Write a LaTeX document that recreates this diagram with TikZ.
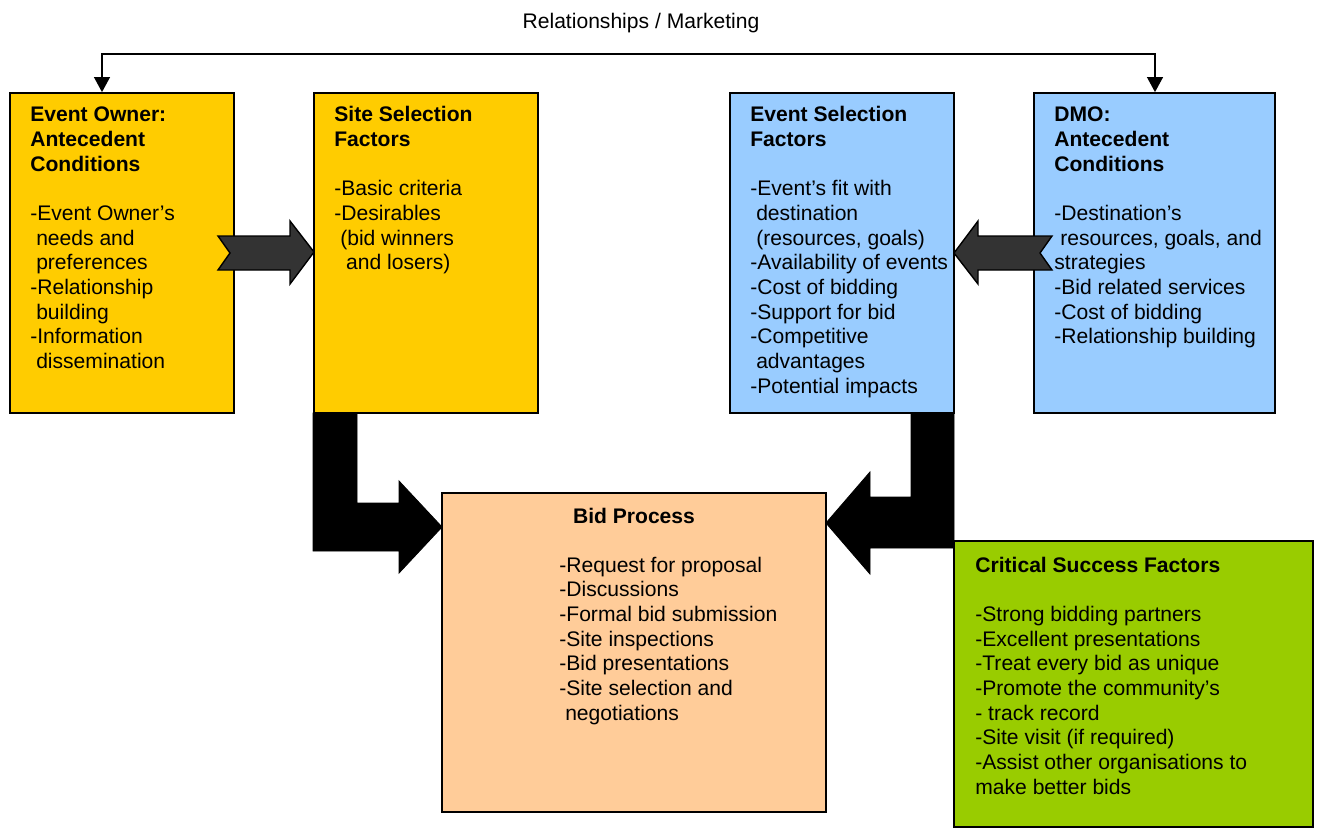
\documentclass[tikz,border=0pt]{standalone}
\usepackage{fontspec}
\setmainfont{Liberation Sans}
\usetikzlibrary{arrows.meta,fit}
\definecolor{ownerfill}{HTML}{FFCC00}
\definecolor{dmofill}{HTML}{99CCFF}
\definecolor{bidfill}{HTML}{FFCC99}
\definecolor{csffill}{HTML}{99CC00}
\definecolor{arrowgray}{HTML}{333333}
\newcommand{\ispc}{\hspace*{0.28em}}
\tikzset{
	box/.style={draw=black, line width=1pt, inner sep=0pt},
	ownerbox/.style={box, fill=ownerfill},
	dmobox/.style={box, fill=dmofill},
	bidbox/.style={box, fill=bidfill},
	csfbox/.style={box, fill=csffill},
	txt/.style={inner sep=0pt, anchor=north west, align=left, font=\fontsize{12}{14.04}\selectfont},
	conn/.style={line width=0.8pt, {Triangle[length=8.5pt,width=9pt]}-{Triangle[length=8.5pt,width=9pt]}},
	grayarrow/.style={fill=arrowgray, draw=black, line width=0.8pt, line join=miter},
	blackarrow/.style={fill=black, draw=black, line width=0.5pt}
}
\begin{document}
\begin{tikzpicture}[x=0.02cm, y=-0.02cm]
		%%%%% BOXES %%%%%
		\useasboundingbox (0,0) rectangle (1319,828);
		
		\node[ownerbox, fit={(10,93) (234,413)}] (owner) {};
		\node[ownerbox, fit={(314,93) (538,413)}] (site) {};
		\node[dmobox, fit={(730,93) (954,413)}] (eventsel) {};
		\node[dmobox, fit={(1034,93) (1275,413)}] (dmo) {};
		\node[bidbox, fit={(442,493) (826,812)}] (bid) {};
		\node[csfbox, fit={(954,541) (1313,827)}] (csf) {};
		
		%%%%% TOP CONNECTOR %%%%%
		\node[txt, anchor=base] (rel) at (641,28.5) {Relationships / Marketing};
		\coordinate (relL) at (102,54);
		\coordinate (relR) at (1155,54);
		\draw[conn] (relL |- owner.north) -- (relL) -- (relR) -- (relR |- dmo.north);
		
		%%%%% BLOCK ARROWS %%%%%
		\draw[grayarrow] (218,236) -- (290,236) -- (290,221) -- (314,252) -- (290,284) -- (290,270) -- (218,270) -- (230,253) -- cycle;
		\draw[grayarrow] (1052,236) -- (978,236) -- (978,221) -- (954,253) -- (978,284) -- (978,270) -- (1052,270) -- (1040,253) -- cycle;
		
		\draw[blackarrow] (313,413) -- (357,413) -- (357,503) -- (399,503) -- (399,481) -- (442,527) -- (399,573) -- (399,551) -- (313,551) -- cycle;
		\draw[blackarrow] (911,413) -- (954,413) -- (954,548) -- (870,548) -- (870,574) -- (826,523) -- (870,472) -- (870,497) -- (911,497) -- cycle;
		
		%%%%% TEXTS %%%%%
		% first baselines at 121.5 (top row) and 572 (bottom row), strut height 17.3
		\node[txt] (ownertxt) at (30,104.2) {\strut\textbf{Event Owner:}\\ \textbf{Antecedent}\\ \textbf{Conditions}\\[14.04pt]
			-Event Owner’s\\ \ispc needs and\\ \ispc preferences\\ -Relationship\\ \ispc building\\ -Information\\ \ispc dissemination};
		\node[txt] (sitetxt) at (334,104.2) {\strut\textbf{Site Selection}\\ \textbf{Factors}\\[14.04pt]
			-Basic criteria\\ -Desirables\\ \ispc(bid winners\\ \ispc\ispc and losers)};
		\node[txt] (eventseltxt) at (750,104.2) {\strut\textbf{Event Selection}\\ \textbf{Factors}\\[14.04pt]
			-Event’s fit with\\ \ispc destination\\ \ispc(resources, goals)\\ -Availability of events\\ -Cost of bidding\\ -Support for bid\\ -Competitive\\ \ispc advantages\\ -Potential impacts};
		\node[txt] (dmotxt) at (1054,104.2) {\strut\textbf{DMO:}\\ \textbf{Antecedent}\\ \textbf{Conditions}\\[14.04pt]
			-Destination’s\\ \ispc resources, goals, and\\ strategies\\ -Bid related services\\ -Cost of bidding\\ -Relationship building};
		\node[txt, anchor=base] (bidtitle) at (634,523) {\textbf{Bid Process}};
		\node[txt] (bidtxt) at (559,554.7) {\strut-Request for proposal\\ -Discussions\\ -Formal bid submission\\ -Site inspections\\ -Bid presentations\\ -Site selection and\\ \ispc negotiations};
		\node[txt] (csftxt) at (975,554.7) {\strut\textbf{Critical Success Factors}\\[14.04pt]
			-Strong bidding partners\\ -Excellent presentations\\ -Treat every bid as unique\\ -Promote the community’s\\ - track record\\ -Site visit (if required)\\ -Assist other organisations to\\ make better bids};
		
		%%%%% END %%%%%
\end{tikzpicture}
\end{document}
